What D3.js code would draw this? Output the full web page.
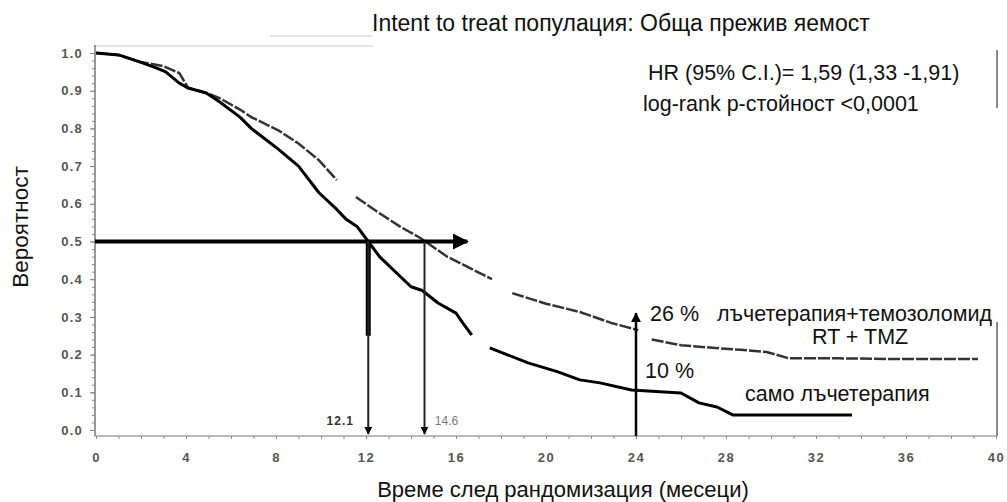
<!DOCTYPE html>
<html>
<head>
<meta charset="utf-8">
<script src="https://cdn.jsdelivr.net/npm/d3@7"></script>
<style>
  body { margin: 0; background: #fff; }
  text { font-family: "Liberation Sans", Arial, sans-serif; }
</style>
</head>
<body>
<div id="chart"></div>
<script>
// Kaplan-Meier curves (null = gap in the drawn line)
const rtTmzTime = [0, 1, 2, 3, 3.7, 4.1, 4.9, 5.5, 6.4, 6.9, 8.1, 9, 9.9, 10.7, null, 11.55, 12.6, 13.5, 14.4, 15.6, 16.6, 17.6, null, 18.5, 20, 21.5, 22.9, 24.1, null, 24.7, 26, 27.4, 28.8, 29.8, 30.8, 33, 36, 39.2];
const rtTmzSurv = [1.0, 0.995, 0.976, 0.965, 0.947, 0.907, 0.894, 0.88, 0.85, 0.83, 0.795, 0.76, 0.716, 0.663, null, 0.618, 0.575, 0.54, 0.51, 0.46, 0.43, 0.40, null, 0.363, 0.335, 0.313, 0.284, 0.265, null, 0.24, 0.225, 0.218, 0.212, 0.207, 0.19, 0.19, 0.188, 0.188];

const rtTime = [0, 1, 2, 2.7, 3.1, 3.7, 4.1, 4.9, 5.5, 6.4, 6.9, 8.1, 9, 9.9, 10.7, 11.1, 11.6, 12.1, 12.6, 14, 14.5, 15.2, 16, 16.3, 16.7, null, 17.5, 19.2, 20.5, 21.5, 22.4, 23.8, 26, 26.8, 27.6, 28.3, 31, 33.6];
const rtSurv = [1.0, 0.995, 0.975, 0.96, 0.95, 0.92, 0.907, 0.894, 0.87, 0.83, 0.80, 0.745, 0.70, 0.63, 0.585, 0.56, 0.54, 0.50, 0.46, 0.38, 0.37, 0.337, 0.31, 0.284, 0.252, null, 0.218, 0.178, 0.155, 0.133, 0.125, 0.106, 0.098, 0.072, 0.061, 0.04, 0.04, 0.04];

// Annotation values
const medians = [12.1, 14.6];
const medianLabels = ["12.1", "14.6"];
const landmark = 24;
const landmarkTop = 0.31;
const arrowEnd = 16.5;
const xTicks = [0, 4, 8, 12, 16, 20, 24, 28, 32, 36, 40];
const yTicks = [0, 0.1, 0.2, 0.3, 0.4, 0.5, 0.6, 0.7, 0.8, 0.9, 1.0];

const title = "Intent to treat популация: Обща прежив яемост";
const statLines = ["HR (95% C.I.)= 1,59 (1,33 -1,91)", "log-rank p-стойност <0,0001"];

const width = 1007, height = 502;
const axisY = 436, axisX = 95;

const x = d3.scaleLinear().domain([0, 40]).range([96, 996]);
const y = d3.scaleLinear().domain([0, 1]).range([430, 53]);

const svg = d3.select("#chart").append("svg").attr("width", width).attr("height", height);

// Arrow heads
const defs = svg.append("defs");
defs.append("marker").attr("id", "arrow")
    .attr("viewBox", "0 0 10 10").attr("refX", 9).attr("refY", 5)
    .attr("markerWidth", 4).attr("markerHeight", 4).attr("orient", "auto")
    .append("path").attr("d", "M0,0L10,5L0,10Z").attr("fill", "#000");

// Faint frame bits
svg.append("line").attr("x1", axisX).attr("x2", 373).attr("y1", 46).attr("y2", 46)
    .attr("stroke", "#c8c8c8").attr("stroke-width", 1);
svg.append("line").attr("x1", 270).attr("x2", 372).attr("y1", 36).attr("y2", 36)
    .attr("stroke", "#c8c8c8").attr("stroke-width", 1);
svg.append("line").attr("x1", 997).attr("x2", 997).attr("y1", 50).attr("y2", 108)
    .attr("stroke", "#888").attr("stroke-width", 2);
svg.append("line").attr("x1", 997).attr("x2", 997).attr("y1", 322).attr("y2", axisY)
    .attr("stroke", "#888").attr("stroke-width", 2);

// Axes lines
svg.append("line").attr("x1", axisX).attr("x2", 997).attr("y1", axisY).attr("y2", axisY)
    .attr("stroke", "#777").attr("stroke-width", 1.2);
svg.append("line").attr("x1", axisX).attr("x2", axisX).attr("y1", 45).attr("y2", axisY)
    .attr("stroke", "#777").attr("stroke-width", 1.5);

// Y axis
const yAxis = svg.append("g").attr("transform", `translate(${axisX},0)`)
    .call(d3.axisLeft(y).tickValues(yTicks).tickSize(5).tickPadding(7).tickFormat(d3.format(".1f")));
yAxis.select(".domain").remove();
yAxis.selectAll("line").attr("stroke", "#777");
yAxis.selectAll("text").attr("font-size", 13).attr("font-weight", "bold").attr("fill", "#555")
    .attr("letter-spacing", 1.2)
    .style("font-family", "'Liberation Sans', Arial, sans-serif");
svg.append("g").attr("transform", `translate(${axisX},0)`)
    .call(d3.axisLeft(y).ticks(40).tickSize(3).tickFormat(""))
    .call(g => g.select(".domain").remove())
    .selectAll("line").attr("stroke", "#888");

// X axis
const xAxis = svg.append("g").attr("transform", `translate(0,${axisY})`)
    .call(d3.axisBottom(x).tickValues(xTicks).tickSize(3).tickPadding(14));
xAxis.select(".domain").remove();
xAxis.selectAll("line").attr("stroke", "#777");
xAxis.selectAll("text").attr("font-size", 13).attr("font-weight", "bold").attr("fill", "#555")
    .attr("letter-spacing", 1.5)
    .style("font-family", "'Liberation Sans', Arial, sans-serif");
svg.append("g").attr("transform", `translate(0,${axisY})`)
    .call(d3.axisBottom(x).ticks(40).tickSize(3).tickFormat(""))
    .call(g => g.select(".domain").remove())
    .selectAll("line").attr("stroke", "#888");

// Curves
const line = d3.line()
    .defined(d => d.s !== null)
    .x(d => x(d.t))
    .y(d => y(d.s));

const rtTmz = rtTmzTime.map((t, i) => ({ t: t, s: rtTmzSurv[i] }));
const rt = rtTime.map((t, i) => ({ t: t, s: rtSurv[i] }));

svg.append("path").datum(rtTmz)
    .attr("fill", "none").attr("stroke", "#333").attr("stroke-width", 2.5)
    .attr("stroke-dasharray", "12,2").attr("stroke-linejoin", "round")
    .attr("d", line);
svg.append("path").datum(rt)
    .attr("fill", "none").attr("stroke", "#000").attr("stroke-width", 3)
    .attr("stroke-linejoin", "round")
    .attr("d", line);

// Median arrows
svg.append("line").attr("x1", axisX).attr("x2", x(arrowEnd))
    .attr("y1", y(0.5)).attr("y2", y(0.5))
    .attr("stroke", "#000").attr("stroke-width", 4).attr("marker-end", "url(#arrow)");

svg.append("line").attr("x1", x(medians[0])).attr("x2", x(medians[0]))
    .attr("y1", y(0.5)).attr("y2", y(0.25))
    .attr("stroke", "#000").attr("stroke-width", 5);

medians.forEach((m, i) => {
    svg.append("line").attr("x1", x(m)).attr("x2", x(m))
        .attr("y1", y(0.5)).attr("y2", axisY - 2)
        .attr("stroke", "#222").attr("stroke-width", 2).attr("marker-end", "url(#arrow)");
});

svg.append("text").attr("x", x(medians[0]) - 28).attr("y", 425)
    .attr("text-anchor", "middle").attr("font-size", 12).attr("font-weight", "bold")
    .attr("letter-spacing", 1).attr("fill", "#333")
    .text(medianLabels[0]);
svg.append("text").attr("x", x(medians[1]) + 22).attr("y", 425)
    .attr("text-anchor", "middle").attr("font-size", 12).attr("fill", "#777")
    .text(medianLabels[1]);

// 24 month landmark arrow
svg.append("line").attr("x1", x(landmark)).attr("x2", x(landmark))
    .attr("y1", axisY).attr("y2", y(landmarkTop))
    .attr("stroke", "#000").attr("stroke-width", 2.5).attr("marker-end", "url(#arrow)");

// Annotation text
const ann = [
    { text: "26 %", x: 650, y: 321 },
    { text: "лъчетерапия+темозоломид", x: 717, y: 321 },
    { text: "RT + TMZ", x: 812, y: 344 },
    { text: "10 %", x: 645, y: 378 },
    { text: "само лъчетерапия", x: 745, y: 401 }
];
svg.selectAll(".ann").data(ann).enter().append("text")
    .attr("class", "ann")
    .attr("x", d => d.x).attr("y", d => d.y)
    .attr("font-size", 21.5).attr("fill", "#111")
    .text(d => d.text);

svg.append("text").attr("x", 648).attr("y", 80).attr("font-size", 21.5).attr("fill", "#111").text(statLines[0]);
svg.append("text").attr("x", 643).attr("y", 111).attr("font-size", 21.5).attr("fill", "#111").text(statLines[1]);

// Titles
svg.append("text").attr("x", 372).attr("y", 31).attr("font-size", 23).attr("fill", "#111").text(title);
svg.append("text").attr("x", 563).attr("y", 497).attr("text-anchor", "middle")
    .attr("font-size", 22).attr("fill", "#111").text("Време след рандомизация (месеци)");
svg.append("text").attr("transform", "translate(28,227) rotate(-90)").attr("text-anchor", "middle")
    .attr("font-size", 22.5).attr("fill", "#111").text("Вероятност");
</script>
</body>
</html>
